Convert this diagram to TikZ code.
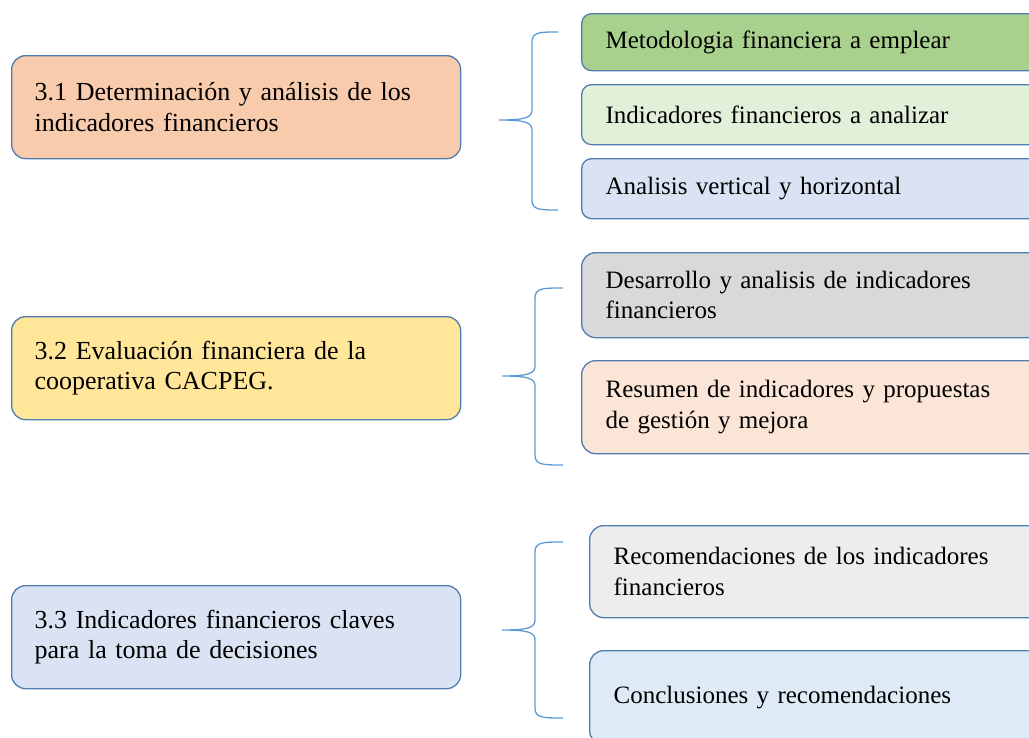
\documentclass[tikz,border=0pt]{standalone}
\usepackage{fontspec}
\usetikzlibrary{calc}
\setmainfont{Liberation Serif}
\definecolor{bord}{HTML}{4F7DAF}
\definecolor{brc}{HTML}{5B9BD5}
\definecolor{cpeach}{HTML}{F8CBAD}
\definecolor{cyellow}{HTML}{FFE699}
\definecolor{cblue}{HTML}{DAE3F3}
\definecolor{cgreen}{HTML}{A9D18E}
\definecolor{clgreen}{HTML}{E2F0D9}
\definecolor{cgray}{HTML}{D9D9D9}
\definecolor{clpeach}{HTML}{FBE5D6}
\definecolor{clgray}{HTML}{EDEDED}
\definecolor{clblue}{HTML}{DEEBF7}
\begin{document}
\begin{tikzpicture}[x=1pt,y=-1pt,
  box/.style={draw=bord, line width=1.3pt, rounded corners=14pt, anchor=north west,
    align=left, inner xsep=23pt, inner ysep=0pt},
  lbox/.style={box, text width=403pt, minimum height=103pt, font=\fontsize{26}{30.5}\selectfont},
  rbox/.style={box, rounded corners=10pt, inner xsep=24pt, text width=452pt, font=\fontsize{25}{30.5}\selectfont},
  brace/.style={draw=brc, line width=1.3pt}
]
\useasboundingbox (0,0) rectangle (1029,737);
\clip (0,0) rectangle (1029,737);
% left boxes
\node[lbox, fill=cpeach] (L1) at (11,55) {3.1 Determinación y análisis de los\\indicadores financieros};
\node[lbox, fill=cyellow] (L2) at (11,316) {3.2 Evaluación financiera de la\\cooperativa CACPEG.};
\node[lbox, fill=cblue] (L3) at (11,585) {3.3 Indicadores financieros claves\\para la toma de decisiones};
% right group 1
\node[rbox, fill=cgreen, minimum height=57pt] (A1) at (581,13) {Metodologia financiera a emplear};
\node[rbox, fill=clgreen, minimum height=60pt] (A2) at (581,84) {Indicadores financieros a analizar};
\node[rbox, fill=cblue, minimum height=60pt] (A3) at (581,158) {Analisis vertical y horizontal};
% right group 2
\node[rbox, fill=cgray, minimum height=85pt, rounded corners=14pt] (B1) at (581,252) {Desarrollo y analisis de indicadores\\financieros};
\node[rbox, fill=clpeach, minimum height=93pt, rounded corners=14pt] (B2) at (581,360) {Resumen de indicadores y propuestas\\de gestión y mejora};
% right group 3
\node[rbox, fill=clgray, minimum height=92pt, rounded corners=14pt] (C1) at (589,525) {Recomendaciones de los indicadores\\financieros};
\node[rbox, fill=clblue, minimum height=94pt, rounded corners=14pt] (C2) at (589,650) {Conclusiones y recomendaciones};
% braces: tip x, vertical x, end x, top y, mid y, bottom y
\foreach \n/\tx/\vx/\ex/\ty/\my/\by in {1/499/532/558/32/120/210, 2/502/535/563/288/376/465, 3/502/535/563/542/630/718}{
  \coordinate (top\n) at (\ex,\ty);
  \coordinate (tip\n) at (\tx,\my);
  \coordinate (bot\n) at (\ex,\by);
  \draw[brace] (top\n) .. controls (\vx+8,\ty) and (\vx,\ty) .. (\vx,\ty+10)
     -- (\vx,\my-10) .. controls (\vx,\my-2) and (\vx-8,\my) .. (tip\n)
     .. controls (\vx-8,\my) and (\vx,\my+2) .. (\vx,\my+10)
     -- (\vx,\by-10) .. controls (\vx,\by) and (\vx+8,\by) .. (bot\n);
}
\end{tikzpicture}
\end{document}
